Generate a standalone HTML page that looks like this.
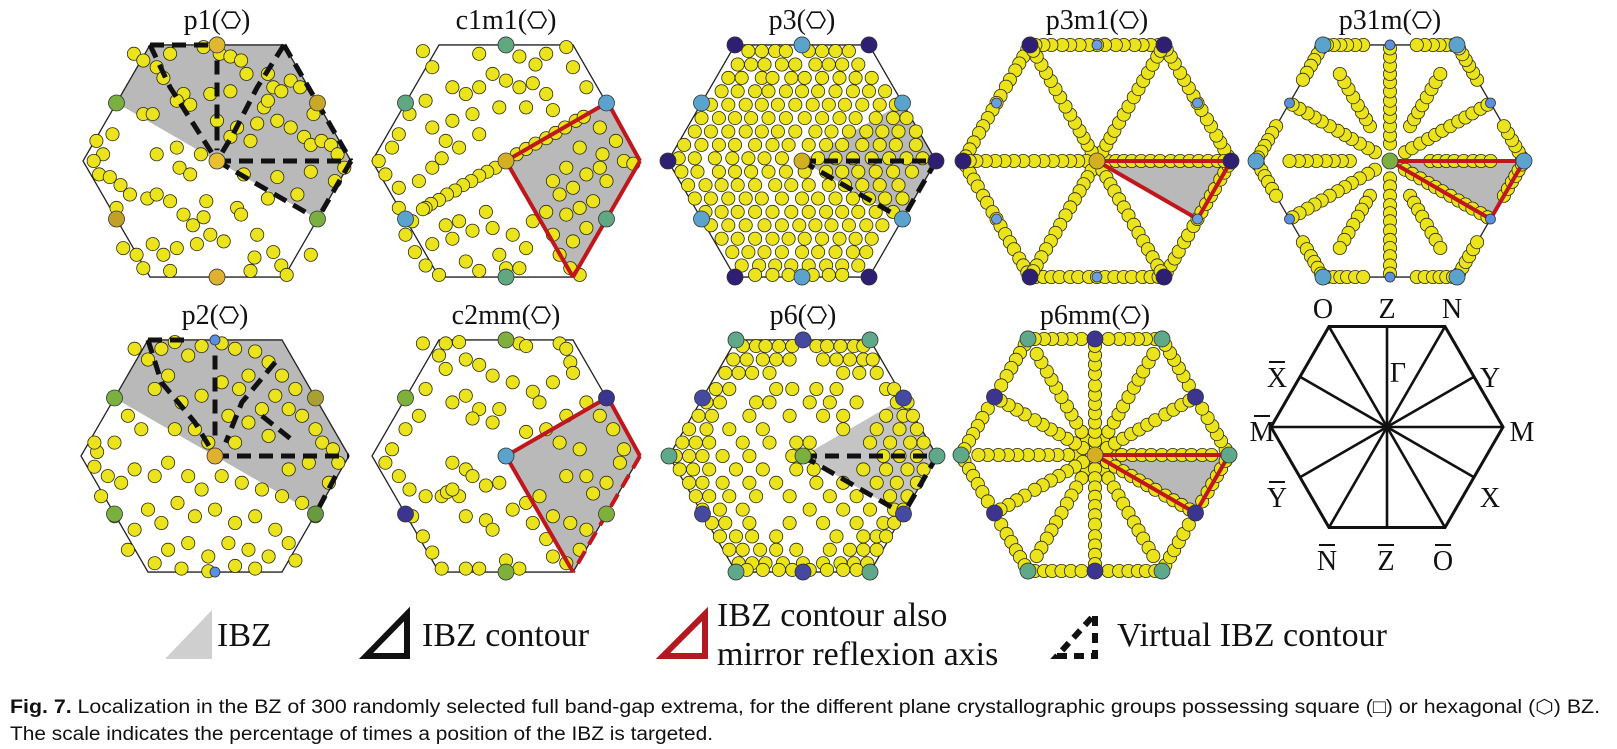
<!DOCTYPE html>
<html><head><meta charset="utf-8"><style>
html,body{margin:0;padding:0;background:#fff;}
svg{display:block;}
</style></head><body>
<svg id="fig" width="1617" height="749" viewBox="0 0 1617 749" xmlns="http://www.w3.org/2000/svg">
<g id="panels"></g>
<g id="legendhex"></g>
<g id="legend">
  <polygon points="165,659 212,659 212,610" fill="#cfcfcf"/>
  <text x="217" y="646" font-family="Liberation Serif, serif" font-size="34" fill="#111">IBZ</text>
  <polygon points="366,656 407,656 407,614" fill="none" stroke="#111" stroke-width="6"/>
  <text x="422" y="646" font-family="Liberation Serif, serif" font-size="34" fill="#111">IBZ contour</text>
  <polygon points="663,656 705,656 705,614" fill="none" stroke="#b3191f" stroke-width="6"/>
  <text x="717" y="626" font-family="Liberation Serif, serif" font-size="34" fill="#111">IBZ contour also</text>
  <text x="717" y="665" font-family="Liberation Serif, serif" font-size="34" fill="#111">mirror reflexion axis</text>
  <polygon points="1057,656 1095,656 1095,614" fill="none" stroke="#111" stroke-width="6" stroke-dasharray="10 7"/>
  <text x="1117" y="646" font-family="Liberation Serif, serif" font-size="34" fill="#111">Virtual IBZ contour</text>
</g>
<g font-family="Liberation Sans Narrow, Liberation Sans, sans-serif" font-size="19" fill="#111">
  <text x="10" y="713" textLength="1590" lengthAdjust="spacingAndGlyphs"><tspan font-weight="bold">Fig. 7.</tspan> Localization in the BZ of 300 randomly selected full band-gap extrema, for the different plane crystallographic groups possessing square (□) or hexagonal (⬡) BZ.</text>
  <text x="10" y="740" textLength="703" lengthAdjust="spacingAndGlyphs">The scale indicates the percentage of times a position of the IBZ is targeted.</text>
</g>
</svg>
<script>
// ---------- data (normalised units: hundredths of hexagon radius) ----------
const p1Points=[[-62,-80],[-55,-75],[-45,-70],[-40,-62],[-35,-80],[-10,-85],[2,-80],[10,-78],[18,-75],[22,-65],[-25,-50],[-20,-42],[-30,-45],[-5,-50],[10,-52],[38,-65],[42,-55],[48,-52],[55,-60],[62,-55],[35,-40],[30,-28],[25,-15],[38,-45],[45,-30],[15,-25],[10,-18],[55,-25],[65,-18],[70,-12],[78,-15],[85,-12],[90,-5],[72,-35],[70,8],[88,15],[95,5],[60,25],[45,12],[20,10],[15,35],[38,28],[-55,-35],[-48,-35],[-85,-5],[-92,0],[-88,10],[-80,12],[-72,18],[-65,25],[-52,28],[-45,25],[-75,35],[-28,5],[-30,-10],[-12,-5],[-20,10],[-45,-5],[-35,30],[-25,40],[-18,48],[-10,42],[-5,55],[-15,62],[-30,65],[-40,70],[-48,62],[-60,70],[-55,80],[-35,82],[5,60],[18,40],[30,55],[28,72],[25,82],[42,68],[48,78],[52,85],[70,70],[-70,65],[-90,-15],[-78,-20],[-8,30],[0,-30]];
const p2Points=[[-60,-80],[-50,-72],[-40,-80],[-30,-85],[-20,-75],[-10,-82],[5,-84],[15,-80],[30,-78],[40,-70],[25,-60],[18,-50],[-35,-60],[-45,-50],[-25,-40],[-10,-45],[5,-55],[50,-60],[60,-50],[45,-45],[35,-35],[55,-35],[65,-30],[75,-20],[80,-10],[88,-5],[92,5],[70,5],[55,10],[40,-15],[25,-25],[15,-10],[10,-30],[-15,-20],[-5,-10],[-30,-20],[-55,-20],[-65,-30],[-75,-10],[-88,-3],[-90,8],[-80,15],[-70,20],[-60,10],[-45,15],[-35,5],[-20,15],[-10,25],[5,15],[20,20],[35,25],[50,30],[65,35],[75,45],[85,20],[-85,30],[-75,45],[-60,55],[-50,40],[-40,50],[-28,35],[-15,45],[0,40],[15,50],[30,45],[45,55],[55,65],[40,75],[25,70],[10,65],[-5,75],[-20,65],[-35,70],[-45,80],[-25,84],[-5,86],[15,82],[30,84],[60,78],[-65,70],[-90,-10]];
const c1m1Points=[[-8,5],[-14,8],[-20,11],[-26,15],[-32,18],[-38,22],[-44,25],[-50,29],[-56,32],[-60,35],[-62,36],[8,-5],[15,-9],[22,-13],[30,-17],[37,-21],[44,-25],[52,-30],[58,-33],[-62,-82],[-55,-70],[-20,-80],[-10,-65],[10,-78],[22,-72],[30,-80],[45,-85],[50,-70],[60,-55],[-40,-55],[-30,-50],[-20,-55],[0,-60],[10,-55],[20,-58],[30,-50],[-5,-40],[-25,-35],[-40,-30],[-55,-25],[-45,-15],[-35,-10],[-20,-20],[15,-40],[35,-38],[-60,-45],[-72,-35],[-80,-20],[-85,-10],[-95,0],[-90,10],[-80,20],[-65,15],[-55,5],[-48,-2],[-70,45],[-80,35],[-75,55],[-68,68],[-60,78],[-50,85],[-30,75],[-20,82],[-5,70],[0,80],[10,80],[-40,58],[-35,45],[-25,52],[-10,50],[-15,38],[5,55],[15,65],[20,45],[-45,48],[-55,62],[35,15],[45,5],[55,-10],[70,-25],[82,-15],[88,0],[95,2],[40,25],[50,20],[60,10],[70,5],[75,15],[45,40],[55,35],[60,50],[50,60],[35,55],[30,38],[40,70],[48,80],[55,85],[65,30],[72,-5]];
const c2mmPoints=[[-62,-84],[-45,-84],[-35,-85],[10,-84],[15,-82],[40,-84],[45,-80],[48,-70],[50,-62],[35,-55],[-50,-75],[-45,-65],[-30,-72],[-20,-68],[-10,-60],[5,-55],[20,-48],[25,-40],[-60,-50],[-40,-40],[-30,-45],[-20,-35],[-25,-28],[-10,-25],[-5,-35],[-65,-30],[-75,-20],[-85,-5],[-90,5],[-80,15],[-72,25],[-60,30],[-40,5],[-30,10],[-25,15],[-15,22],[-5,20],[-35,30],[-30,45],[-15,48],[-70,45],[-62,60],[-55,72],[-48,84],[-30,84],[-20,84],[0,78],[10,84],[-10,55],[5,40],[15,35],[25,30],[35,45],[30,62],[35,75],[45,80],[55,70],[60,55],[48,50],[20,50],[65,28],[75,20],[85,5],[88,-5],[80,-20],[70,-30],[60,-40],[45,-30],[30,-20],[40,-10],[55,-5],[60,15],[45,15],[15,-18],[-48,30],[-44,27],[-40,25]];
const p3Rows=[[-82,[-40,-30,-20,-12,5,15,25,35]],[-72,[-48,-38,-28,-15,-5,10,20,30,42]],[-62,[-55,-45,-30,-22,-8,2,15,28,40,52]],[-52,[-60,-48,-35,-25,-12,0,12,25,38,50,62]],[-42,[-68,-55,-42,-30,-18,-5,8,20,32,45,58,70]],[-32,[-75,-62,-50,-38,-25,-12,2,15,28,40,55,68,78]],[-22,[-80,-68,-55,-42,-30,-18,-5,10,22,35,48,60,72,85]],[-12,[-88,-75,-62,-50,-35,-22,-10,5,18,30,45,58,70,85]],[-2,[-92,-80,-65,-52,-40,-28,-15,12,25,38,52,65,78,90]],[8,[-90,-78,-62,-50,-38,-25,-12,2,18,30,42,55,68,82]],[18,[-85,-72,-60,-48,-35,-20,-8,5,20,32,45,58,72]],[28,[-80,-68,-55,-42,-30,-15,0,12,25,38,50,62,75]],[38,[-72,-60,-48,-35,-22,-8,5,18,30,42,55,68]],[48,[-68,-55,-42,-28,-15,-2,10,22,35,48,60]],[58,[-60,-48,-35,-22,-10,2,15,28,40,52]],[68,[-52,-40,-28,-15,0,12,25,38,48]],[78,[-45,-32,-20,-8,5,18,30,42]],[85,[-35,-22,-10,8,20,30]]];
const p6Rows=[[-82,[-45,-35,-28,-18,-8,10,18,28,38,45]],[-72,[-52,-42,-30,-20,-10,15,25,35,45,52]],[-62,[-58,-48,-38,-25,30,42,55]],[-50,[-65,-55,-20,-8,10,25,62,68]],[-40,[-72,-62,-35,-25,5,20,40,70,78]],[-30,[-78,-68,-40,-10,15,30,62,75,82]],[-20,[-85,-72,-55,-30,30,55,72,85]],[-10,[-90,-80,-70,-45,-25,-5,5,50,65,80,90]],[0,[-95,-85,-75,-60,-40,-8,5,60,72,85]],[10,[-92,-82,-70,-50,-30,-5,8,45,62,78,90]],[20,[-85,-75,-60,-40,-20,10,30,55,70,85]],[30,[-80,-70,-55,-35,-10,20,40,65,78]],[40,[-75,-62,-45,5,30,50,68,75]],[50,[-68,-58,-40,-10,15,40,60,68]],[60,[-62,-50,-38,-20,25,45,55,62]],[70,[-55,-45,-32,-20,-5,20,35,45,55]],[80,[-48,-38,-28,-15,0,15,28,38,48]],[85,[-42,-30,-18,-8,5,18,30,40]]];
// line-structured panels: fractions along edges / spokes
const p3m1EdgeS=[0.04,0.1,0.16,0.22,0.3,0.36,0.44,0.5,0.56,0.63,0.7,0.76,0.84,0.9,0.96];
const p3m1SpokeT=[0.08,0.14,0.2,0.26,0.33,0.4,0.47,0.55,0.62,0.69,0.76,0.83,0.9,0.95];
const p31mMidT=[0.15,0.22,0.3,0.38,0.45,0.52,0.6,0.68,0.75,0.82,0.9,0.97];
const p31mVertT=[0.3,0.36,0.42,0.48,0.55,0.62,0.68,0.75];
const p31mEdgeS=[0.03,0.08,0.13,0.18,0.24,0.3,0.7,0.76,0.82,0.87,0.92,0.97];
const p6mmEdgeS=[0.05,0.12,0.18,0.25,0.32,0.4,0.6,0.68,0.75,0.82,0.88,0.95];
const p6mmVertT=[0.12,0.2,0.28,0.35,0.42,0.5,0.58,0.65,0.72,0.8,0.87];
const p6mmMidT=[0.12,0.2,0.28,0.36,0.44,0.52,0.6,0.7,0.78,0.86,0.94];

// ---------- geometry ----------
const NS='http://www.w3.org/2000/svg';
const R=134, S=0.866;
const L={C:[0,0],V0:[1,0],V1:[.5,-S],V2:[-.5,-S],V3:[-1,0],V4:[-.5,S],V5:[.5,S],
 M0:[.75,-.433],M1:[0,-S],M2:[-.75,-.433],M3:[-.75,.433],M4:[0,S],M5:[.75,.433]};
const VERTS=['V0','V1','V2','V3','V4','V5'], MIDS=['M0','M1','M2','M3','M4','M5'];
function el(tag,attrs,parent){const e=document.createElementNS(NS,tag);for(const k in attrs)e.setAttribute(k,attrs[k]);parent.appendChild(e);return e;}
function loc(k){return typeof k==='string'?L[k]:k;}

const dashBlack={stroke:'#111','stroke-width':5,'stroke-dasharray':'14 8'};
const redSolid={stroke:'#c0161c','stroke-width':4};
const redDash={stroke:'#c0161c','stroke-width':4,'stroke-dasharray':'14 8'};

const panels=[
 {id:'p1',t:'p1',cx:217,cy:161,gray:['M2','V2','V1','V0','M5','C'],
  lines:[[dashBlack,['C','V0']],[dashBlack,['C','M5']],[dashBlack,['V0','M5']],[dashBlack,['V1','V0']],[dashBlack,['V2','M1']],[dashBlack,['V2',[-.35,-.55],'C']],[dashBlack,[[0,-.75],[0,-.08]]],[dashBlack,['V1',[.3,-.55],[.12,-.2],'C']]],
  spec:[['M2','#7ab040'],['M0','#c8a828'],['M1','#e0b830'],['C','#e8c030'],['M4','#e0b030'],['M3','#c0a028'],['M5','#7ab040']]},
 {id:'c1m1',t:'c1m1',cx:506,cy:161,gray:['C','M0','V0','V5'],
  lines:[[redSolid,['C','M0']],[redSolid,[[.78,-.4],'V0']],[redSolid,['V0','V5']],[redSolid,['V5','C']]],
  spec:[['M1','#5fa882'],['M2','#5fa882'],['M0','#5ba3cc'],['M3','#5ba3cc'],['M5','#5fa882'],['M4','#5fa882'],['C','#d4b020']]},
 {id:'p3',t:'p3',cx:802,cy:161,gray:['C','M0','V0','M5'],
  lines:[[dashBlack,['C','V0']],[dashBlack,['C','M5']],[dashBlack,['V0','M5']]],
  spec:VERTS.map(v=>[v,'#2e1f73']).concat(MIDS.map(m=>[m,'#5ba3cc'])).concat([['C','#d4b020']])},
 {id:'p3m1',t:'p3m1',cx:1097,cy:161,gray:['C','V0','M5'],
  lines:[[redSolid,['C','V0']],[redSolid,['V0','M5']],[redSolid,['M5','C']]],
  spec:VERTS.map(v=>[v,'#2e1f73']).concat(MIDS.map(m=>[m,'#6b9ee0',5])).concat([['C','#d4b020']])},
 {id:'p31m',t:'p31m',cx:1390,cy:161,gray:['C','V0','M5'],
  lines:[[redSolid,['C','V0']],[redSolid,['V0','M5']],[redSolid,['M5','C']]],
  spec:VERTS.map(v=>[v,'#5ba3cc']).concat(MIDS.map(m=>[m,'#5b8fe0',5])).concat([['C','#7ab040']])},
 {id:'p2',t:'p2',cx:215,cy:456,gray:['M2','V2','V1','V0','M5','C'],
  lines:[[dashBlack,['C','V0']],[dashBlack,[[.9,.15],'M5']],[dashBlack,['V2',[-.2,-S]]],[dashBlack,['V2',[-.4,-.55],[-.15,-.25],'C']],[dashBlack,[[0,-.75],[0,-.1]]],[dashBlack,[[.45,-.7],[.2,-.4],[.08,-.1]]],[dashBlack,[[.35,-.3],[.6,-.1]]]],
  spec:[['M1','#5b8fe0',5],['M4','#5b8fe0',5],['M2','#7ab040'],['M0','#a8a030'],['C','#e0b030'],['M3','#7ab040'],['M5','#6a9a40']]},
 {id:'c2mm',t:'c2mm',cx:506,cy:456,gray:['C','M0','V0','V5'],
  lines:[[redSolid,['C','M0']],[redSolid,[[.78,-.4],'V0']],[redDash,['V0','V5']],[redSolid,['V5','C']]],
  spec:[['M1','#7fb03c'],['M2','#7fb03c'],['M0','#3b3590'],['M3','#3b3590'],['M5','#7fb03c'],['M4','#7fb03c'],['C','#5ba3cc']]},
 {id:'p6',t:'p6',cx:803,cy:456,gray:['C','M0','V0','M5'],
  lines:[[dashBlack,['C','V0']],[dashBlack,['C','M5']],[dashBlack,['V0','M5']]],
  spec:VERTS.map(v=>[v,'#5fa88a']).concat(MIDS.map(m=>[m,'#4549a0'])).concat([['C','#7ab040']])},
 {id:'p6mm',t:'p6mm',cx:1095,cy:455,gray:['C','V0','M5'],
  lines:[[redSolid,['C','V0']],[redSolid,['V0','M5']],[redSolid,['M5','C']]],
  spec:VERTS.map(v=>[v,'#5fa88a']).concat(MIDS.map(m=>[m,'#3b3590'])).concat([['C','#d4b020']])}
];

function rowsToPts(rows){const o=[];rows.forEach(r=>r[1].forEach(x=>o.push([x,r[0]])));return o;}
function pctPts(a){return a.map(p=>[p[0]/100,p[1]/100]);}
function edgePts(sArr){const o=[];for(let i=0;i<6;i++){const a=L[VERTS[i]],b=L[VERTS[(i+1)%6]];sArr.forEach(s=>o.push([a[0]+(b[0]-a[0])*s,a[1]+(b[1]-a[1])*s]));}return o;}
function spokePts(keys,tArr){const o=[];keys.forEach(k=>{const v=L[k];tArr.forEach(t=>o.push([v[0]*t,v[1]*t]));});return o;}

const ptsFor={
 p1:pctPts(p1Points), p2:pctPts(p2Points), c1m1:pctPts(c1m1Points), c2mm:pctPts(c2mmPoints),
 p3:pctPts(rowsToPts(p3Rows)), p6:pctPts(rowsToPts(p6Rows)),
 p3m1:edgePts(p3m1EdgeS).concat(spokePts(VERTS,p3m1SpokeT)),
 p31m:spokePts(MIDS,p31mMidT).concat(spokePts(VERTS,p31mVertT)).concat(edgePts(p31mEdgeS)),
 p6mm:edgePts(p6mmEdgeS).concat(spokePts(VERTS,p6mmVertT)).concat(spokePts(MIDS,p6mmMidT))
};

const root=document.getElementById('panels');
panels.forEach(P=>{
  const X=n=>P.cx+n*R, Y=n=>P.cy+n*R;
  const g=el('g',{},root);
  
  
  const hexPts=VERTS.map(k=>X(L[k][0])+','+Y(L[k][1])).join(' ');
  const gp=el('polygon',{points:P.gray.map(k=>{const q=loc(k);return X(q[0])+','+Y(q[1]);}).join(' '),fill:P.id==='p6'?'#c4c4c4':'#b9b9b9'},g);
  
  
  const hx=el('polygon',{points:hexPts,fill:'none',stroke:'#222','stroke-width':1.3},g);
  
  
  ptsFor[P.id].forEach(p=>{
    const c=el('circle',{cx:X(p[0]).toFixed(1),cy:Y(p[1]).toFixed(1),r:6.6,fill:'#ebe31c',stroke:'#2a2a10','stroke-width':0.8},g);
    
    
  });
  P.lines.forEach(ln=>{
    const pl=el('polyline',Object.assign({points:ln[1].map(k=>{const q=loc(k);return X(q[0])+','+Y(q[1]);}).join(' '),fill:'none','stroke-linejoin':'round'},ln[0]),g);
    
    
  });
  P.spec.forEach(s=>{
    const q=L[s[0]];
    const c=el('circle',{cx:X(q[0]),cy:Y(q[1]),r:s[2]||8,fill:s[1],stroke:'#333','stroke-width':0.8},g);
    
    
  });
  // title
  const ty=P.cy<300?29:324;
  const tg=el('g',{},g);
  
  
  const t1=el('text',{y:ty,'font-family':'Liberation Serif, serif','font-size':28,fill:'#111'},tg);
  t1.textContent=P.t+'(';
  const t2=el('text',{y:ty,'font-family':'Liberation Serif, serif','font-size':28,fill:'#111'},tg);
  t2.textContent=')';
  const w1=t1.getComputedTextLength(), w2=t2.getComputedTextLength(), hw=20;
  const x0=P.cx-(w1+hw+w2)/2;
  t1.setAttribute('x',x0); t2.setAttribute('x',x0+w1+hw);
  const hcx=x0+w1+hw/2, hcy=ty-9, hr=9;
  const sh=VERTS.map(k=>(hcx+L[k][0]*hr)+','+(hcy+L[k][1]*hr)).join(' ');
  el('polygon',{points:sh,fill:'none',stroke:'#111','stroke-width':1.6},tg);
});

// ---------- legend hexagon ----------
const LG=document.getElementById('legendhex');
const lcx=1387,lcy=427,lr=116;
const LX=n=>lcx+n*lr, LY=n=>lcy+n*lr;
el('polygon',{points:VERTS.map(k=>LX(L[k][0])+','+LY(L[k][1])).join(' '),fill:'none',stroke:'#111','stroke-width':3},LG);
VERTS.concat(MIDS).forEach(k=>{
  const s=el('line',{x1:lcx,y1:lcy,x2:LX(L[k][0]),y2:LY(L[k][1]),stroke:'#111','stroke-width':2.6},LG);
  
  
});
const labels=[['O',1323,318,0],['Z',1387,318,0],['N',1452,318,0],['Y',1490,387,0],['M',1522,441,0],['X',1490,507,0],
 ['O',1443,570,1],['Z',1386,570,1],['N',1327,570,1],['Y',1277,507,1],['M',1262,441,1],['X',1277,387,1],['Γ',1398,382,0]];
labels.forEach(l=>{
  const t=el('text',{x:l[1],y:l[2],'text-anchor':'middle','font-family':'Liberation Serif, serif','font-size':28,fill:'#111'},LG);
  t.textContent=l[0];
  
  
  if(l[3]) el('line',{x1:l[1]-8,x2:l[1]+8,y1:l[2]-25,y2:l[2]-25,stroke:'#111','stroke-width':2},LG);
});
</script>
</body></html>
